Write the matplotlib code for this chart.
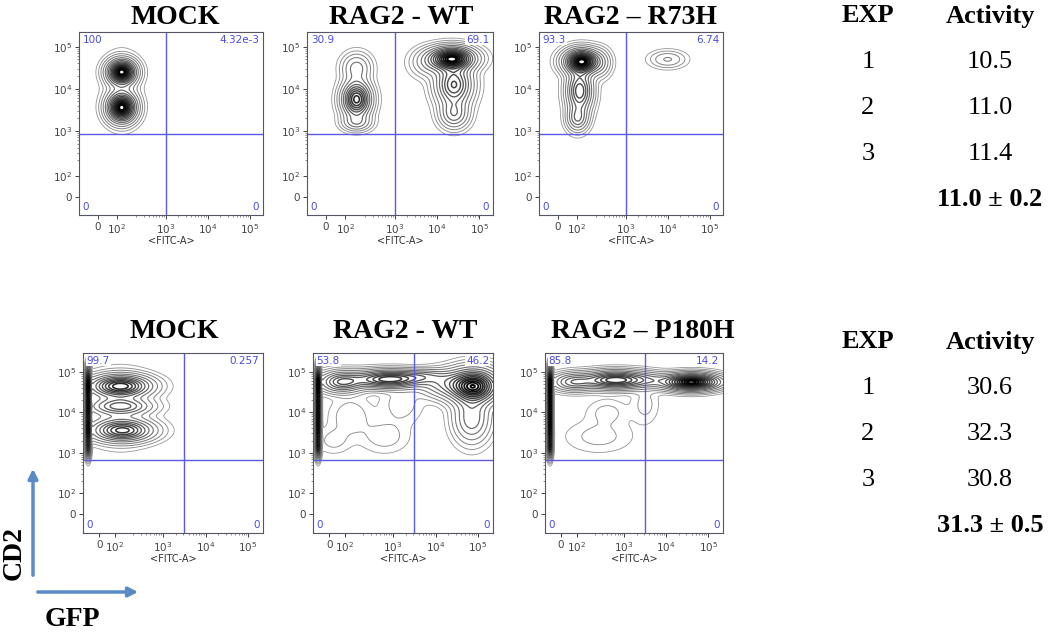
import numpy as np
import matplotlib.pyplot as plt
from matplotlib.patches import FancyArrowPatch

W, H = 1050, 640

titles_top = ['MOCK', 'RAG2 - WT', 'RAG2 \u2013 R73H']
titles_bot = ['MOCK', 'RAG2 - WT', 'RAG2 \u2013 P180H']

# quadrant percentages: upper-left, upper-right, lower-left, lower-right
quad_top = [['100', '4.32e-3', '0', '0'],
            ['30.9', '69.1', '0', '0'],
            ['93.3', '6.74', '0', '0']]
quad_bot = [['99.7', '0.257', '0', '0'],
            ['53.8', '46.2', '0', '0'],
            ['85.8', '14.2', '0', '0']]

# populations: (x, y, sx, sy, weight), axis units = decades
mock_top = [(1.95, 4.4, 0.2, 0.17, 1.0), (1.95, 3.55, 0.2, 0.2, 1.0),
            (1.95, 4.0, 0.24, 0.45, 0.08)]
wt_top = [(2.1, 4.5, 0.2, 0.2, 0.2), (2.1, 3.75, 0.2, 0.25, 0.8),
          (2.1, 3.2, 0.2, 0.12, 0.2),
          (4.35, 4.72, 0.32, 0.16, 1.0), (4.4, 4.1, 0.25, 0.3, 0.6),
          (4.4, 3.4, 0.2, 0.2, 0.3), (3.8, 4.6, 0.25, 0.2, 0.12)]
r73h_top = [(1.95, 4.65, 0.25, 0.17, 1.0), (1.9, 3.95, 0.18, 0.3, 0.55),
            (1.85, 3.3, 0.15, 0.18, 0.3), (2.4, 4.6, 0.15, 0.2, 0.1),
            (4.0, 4.7, 0.25, 0.12, 0.1)]

streak = [(1.24, 3.1, 0.035, 0.15, 0.55), (1.24, 3.4, 0.035, 0.18, 0.55),
          (1.24, 3.7, 0.035, 0.18, 0.55), (1.24, 4.0, 0.035, 0.18, 0.55),
          (1.24, 4.3, 0.035, 0.18, 0.55), (1.24, 4.6, 0.035, 0.18, 0.55),
          (1.24, 4.9, 0.035, 0.18, 0.55)]
mock_bot = streak + [(2.0, 4.65, 0.42, 0.16, 0.7), (2.0, 4.15, 0.42, 0.12, 0.35),
                     (2.05, 3.55, 0.42, 0.16, 0.6), (2.0, 4.1, 0.42, 0.5, 0.08)]
wt_bot = streak + [(2.9, 4.82, 0.5, 0.13, 0.6), (1.8, 4.75, 0.3, 0.15, 0.4),
                   (3.7, 4.9, 0.35, 0.1, 0.15), (4.9, 4.65, 0.35, 0.25, 0.8),
                   (4.85, 3.85, 0.25, 0.35, 0.25), (4.2, 4.7, 0.35, 0.2, 0.2),
                   (2.0, 3.9, 0.3, 0.3, 0.04), (2.8, 3.4, 0.35, 0.25, 0.035),
                   (3.2, 4.2, 0.3, 0.3, 0.035), (1.6, 3.3, 0.25, 0.2, 0.03)]
p180h_bot = streak + [(2.8, 4.8, 0.45, 0.13, 0.6), (1.8, 4.75, 0.3, 0.13, 0.3),
                      (4.6, 4.75, 0.4, 0.12, 0.85), (3.6, 4.8, 0.3, 0.12, 0.12),
                      (2.4, 3.4, 0.5, 0.25, 0.03), (2.6, 4.0, 0.3, 0.2, 0.03),
                      (3.5, 4.2, 0.2, 0.3, 0.03)]

exp_ids = ['1', '2', '3']
activity_top = ['10.5', '11.0', '11.4']
summary_top = '11.0 \u00b1 0.2'
activity_bot = ['30.6', '32.3', '30.8']
summary_bot = '31.3 \u00b1 0.5'

tick_labels = ['0', '$10^2$', '$10^3$', '$10^4$', '$10^5$']

# contour levels as fractions of the panel's peak density
level_frac = [0.01, 0.025, 0.05, 0.09, 0.15, 0.22, 0.3, 0.38, 0.46,
              0.54, 0.62, 0.7, 0.77, 0.84, 0.9, 0.95]

gate_col = '#5a5ae6'
num_col = '#4b4be0'


def px_rect(l, r, t, b):
    return [l / W, 1 - b / H, (r - l) / W, (b - t) / H]


def density(blobs, xg, yg):
    z = np.zeros_like(xg)
    for cx, cy, sx, sy, w in blobs:
        z += w * np.exp(-0.5 * ((xg - cx) / sx) ** 2 - 0.5 * ((yg - cy) / sy) ** 2)
    return z


def draw_panel(ax, blobs, xlim, ylim, xt, yt, gate, quads):
    xg, yg = np.meshgrid(np.linspace(xlim[0], xlim[1], 600),
                         np.linspace(ylim[0], ylim[1], 600))
    z = density(blobs, xg, yg)
    levels = z.max() * np.array(level_frac)
    n = len(levels)
    cols = plt.cm.Greys(np.linspace(0.5, 1.0, n))
    lws = np.linspace(0.6, 1.4, n)
    ax.contour(xg, yg, z, levels=levels, colors=cols, linewidths=lws)
    ax.axvline(gate[0], color=gate_col, lw=1)
    ax.axhline(gate[1], color=gate_col, lw=1)
    ax.set_xlim(xlim)
    ax.set_ylim(ylim)
    ax.set_xticks(xt)
    ax.set_xticklabels(tick_labels)
    ax.set_yticks(yt)
    ax.set_yticklabels(tick_labels)
    minors = [d + np.log10(k) for d in (2, 3, 4) for k in range(2, 10)]
    ax.set_xticks(minors, minor=True)
    ax.set_yticks(minors, minor=True)
    ax.tick_params(which='major', length=3, width=0.7, labelsize=7.5,
                   colors='#444444', pad=2)
    ax.tick_params(which='minor', length=1.5, width=0.5, colors='#666666')
    for s in ax.spines.values():
        s.set_color('#555566')
        s.set_linewidth(0.8)
    ax.set_xlabel('<FITC-A>', fontsize=7, color='#333333', labelpad=0)
    kw = dict(transform=ax.transAxes, fontsize=7.5, color=num_col)
    bb = dict(facecolor='white', edgecolor='none', pad=0.5)
    ax.text(0.02, 0.985, quads[0], ha='left', va='top', bbox=bb, **kw)
    ax.text(0.98, 0.985, quads[1], ha='right', va='top', bbox=bb, **kw)
    ax.text(0.02, 0.015, quads[2], ha='left', va='bottom', **kw)
    ax.text(0.98, 0.015, quads[3], ha='right', va='bottom', **kw)


fig = plt.figure(figsize=(W / 100, H / 100), dpi=100)

serif = 'Liberation Serif'

top_boxes = [(79, 263), (307, 493), (539, 723)]
bot_boxes = [(83, 263), (313, 493), (545, 723)]
top_title_x = [175, 401, 631]
bot_title_x = [174, 405, 643]

for i, blobs in enumerate([mock_top, wt_top, r73h_top]):
    l, r = top_boxes[i]
    ax = fig.add_axes(px_rect(l, r, 32, 215))
    draw_panel(ax, blobs, (0.93, 5.32), (1.0, 5.35),
               [1.38, 1.83, 3, 4, 5], [1.42, 1.93, 3, 4, 5],
               (3.0, 2.92), quad_top[i])
    fig.text(top_title_x[i] / W, 1 - 17 / H, titles_top[i], ha='center',
             va='center', fontsize=20, fontweight='bold', family=serif)

for i, blobs in enumerate([mock_bot, wt_bot, p180h_bot]):
    l, r = bot_boxes[i]
    ax = fig.add_axes(px_rect(l, r, 353, 533))
    draw_panel(ax, blobs, (1.12, 5.35), (1.01, 5.47),
               [1.5, 1.87, 3, 4, 5], [1.48, 2.0, 3, 4, 5],
               (3.5, 2.83), quad_bot[i])
    fig.text(bot_title_x[i] / W, 1 - 332 / H, titles_bot[i], ha='center',
             va='center', fontsize=20, fontweight='bold', family=serif)


# activity tables
def table(y0, acts, summary):
    step = 46
    fig.text(868 / W, 1 - y0 / H, 'EXP', ha='center', va='center',
             fontsize=19, fontweight='bold', family=serif)
    fig.text(990 / W, 1 - y0 / H, 'Activity', ha='center', va='center',
             fontsize=19, fontweight='bold', family=serif)
    for k, (e, a) in enumerate(zip(exp_ids, acts)):
        y = y0 + step * (k + 1)
        fig.text(868 / W, 1 - y / H, e, ha='center', va='center',
                 fontsize=19, family=serif)
        fig.text(990 / W, 1 - y / H, a, ha='center', va='center',
                 fontsize=19, family=serif)
    fig.text(990 / W, 1 - (y0 + step * 4) / H, summary, ha='center',
             va='center', fontsize=19, fontweight='bold', family=serif)


table(16, activity_top, summary_top)
table(342, activity_bot, summary_bot)

# CD2 / GFP axis arrows
arrow_col = '#5b8bc4'
fig.add_artist(FancyArrowPatch((33 / W, 1 - 578 / H), (33 / W, 1 - 466 / H),
                               transform=fig.transFigure, arrowstyle='-|>',
                               mutation_scale=14, lw=2.5, color=arrow_col))
fig.add_artist(FancyArrowPatch((35 / W, 1 - 592 / H), (141 / W, 1 - 592 / H),
                               transform=fig.transFigure, arrowstyle='-|>',
                               mutation_scale=14, lw=2.5, color=arrow_col))
fig.text(14 / W, 1 - 553 / H, 'CD2', rotation=90, ha='center', va='center',
         fontsize=20, fontweight='bold', family=serif)
fig.text(72 / W, 1 - 620 / H, 'GFP', ha='center', va='center',
         fontsize=20, fontweight='bold', family=serif)

fig.savefig('out.png', dpi=100)
